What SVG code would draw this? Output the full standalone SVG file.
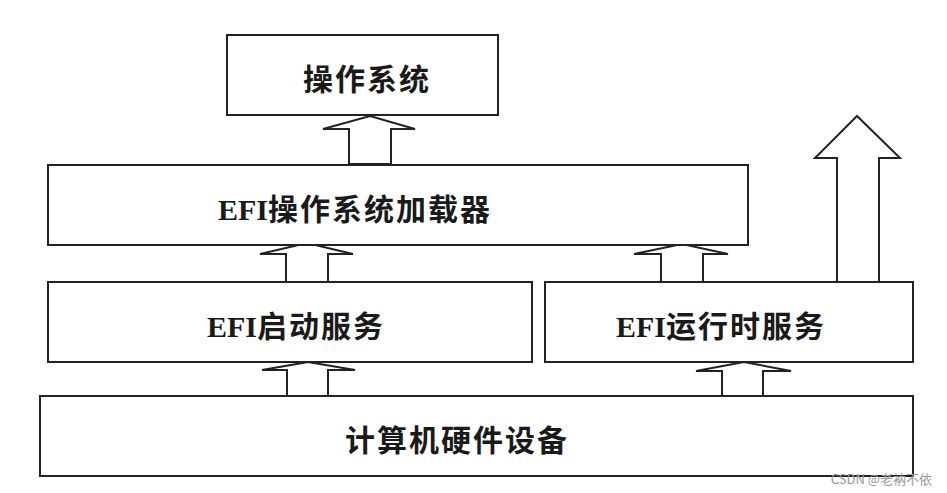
<svg xmlns="http://www.w3.org/2000/svg" width="947" height="493" viewBox="0 0 947 493">
<style>
.box{fill:#fff;stroke:#222;stroke-width:2}
.arr{fill:#fff;stroke:#222;stroke-width:2;stroke-linejoin:miter}
.lbl{font-family:"Noto Sans CJK SC","Liberation Sans",sans-serif;font-weight:bold;font-size:30px;fill:#1a1a1a;text-anchor:middle;letter-spacing:2px}
.lat{font-family:"Liberation Serif",serif;font-weight:bold;letter-spacing:0}
.wm{font-family:"Noto Sans CJK SC","Liberation Sans",sans-serif;font-size:13px;fill:#999;text-anchor:end}
</style>
<rect width="947" height="493" fill="#fff"/>
<g id="connectors">
<polygon class="arr" points="349,164 349,129 323,129 370,116 415,129 391,129 391,164"/>
<polygon class="arr" points="286,282 286,254 260,254 307,243 353,254 328,254 328,282"/>
<polygon class="arr" points="661,282 661,254 634,254 682,244 728,254 703,254 703,282"/>
<polygon class="arr" points="837,282 837,158 815,158 857,116 900,158 879,158 879,282"/>
<polygon class="arr" points="287,396 287,370 262,370 308,362 355,370 328,370 328,396"/>
<polygon class="arr" points="722,396 722,371 696,371 744,362 791,371 763,371 763,396"/>
</g>
<g id="os">
<rect class="box" x="227" y="35" width="271" height="80"/>
<text class="lbl" x="367" y="90">操作系统</text>
</g>
<g id="loader">
<rect class="box" x="48" y="165" width="700" height="80"/>
<text class="lbl" x="355" y="220"><tspan class="lat">EFI</tspan>操作系统加载器</text>
</g>
<g id="boot">
<rect class="box" x="48" y="282" width="484" height="80"/>
<text class="lbl" x="296" y="337"><tspan class="lat">EFI</tspan>启动服务</text>
</g>
<g id="runtime">
<rect class="box" x="545" y="282" width="368" height="80"/>
<text class="lbl" x="721" y="337"><tspan class="lat">EFI</tspan>运行时服务</text>
</g>
<g id="hardware">
<rect class="box" x="40" y="396" width="873" height="80"/>
<text class="lbl" x="457" y="451">计算机硬件设备</text>
</g>
<text class="wm" x="932" y="484">CSDN @老衲不依</text>
</svg>
